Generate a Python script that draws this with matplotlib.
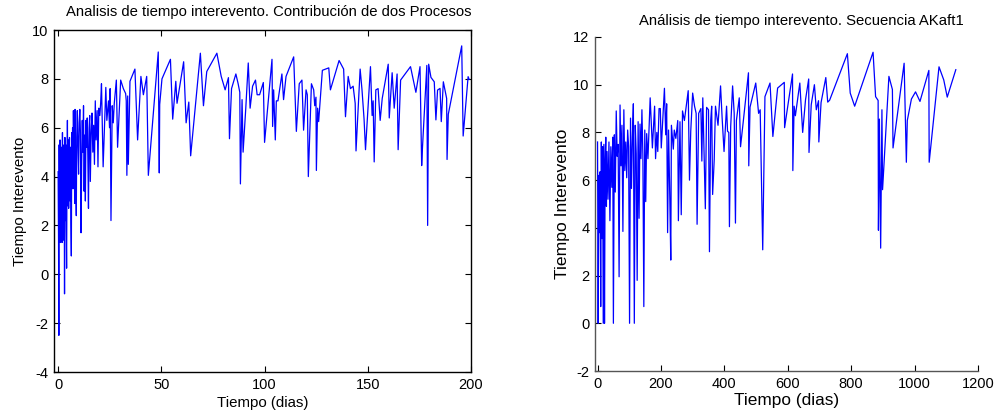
import matplotlib
matplotlib.use("Agg")
import matplotlib.pyplot as plt

plt.rcParams['font.family'] = ['Liberation Sans', 'DejaVu Sans']
plt.rcParams['axes.unicode_minus'] = False

# --- Left panel: interevent time, two-process contribution ---
left_t = [0.0, 0.2, 0.35, 0.5, 0.7, 0.9, 1.1, 1.3, 1.5, 1.7, 1.9, 2.1, 2.3, 2.5, 2.7,
          2.9, 3.1, 3.3, 3.5, 3.7, 3.9, 4.1, 4.3, 4.5, 4.7, 4.9, 5.1, 5.3, 5.5, 5.8,
          6.0, 6.2, 6.4, 6.6, 6.8, 7.0, 7.2, 7.4, 7.6, 7.8, 8.0, 8.2, 8.5, 8.8, 9.0,
          9.3, 9.6, 9.9, 10.2, 10.5, 10.8, 11.1, 11.4, 11.7, 12.0, 12.3, 12.6, 12.9,
          13.2, 13.5, 13.8, 14.1, 14.4, 14.7, 15.0, 15.3, 15.6, 16.0, 16.4, 16.8,
          17.2, 17.6, 18.0, 18.4, 18.9, 19.3, 19.7, 20.2, 20.6, 21.0,
          21.8, 23.1, 23.6, 24.4, 24.9, 25.2, 25.6, 26.2, 26.7, 27.2, 28.2, 28.8,
          30.3, 31.6, 32.7, 33.0, 33.3, 33.7, 34.0, 34.8, 37.2, 38.5, 40.1, 41.3,
          42.9, 43.7, 48.5, 49.0, 49.2, 50.3, 54.4, 55.5, 57.0, 57.6, 60.8, 62.0,
          63.3, 64.2, 68.9, 70.4, 72.0, 76.9, 79.0, 80.9, 82.5, 83.0, 84.0, 86.1,
          87.2, 88.0, 88.3, 89.1, 89.6, 90.9, 92.1, 93.0, 94.2, 95.6, 96.4, 97.6,
          99.4, 100.0, 103.6, 103.9, 104.4, 105.2, 105.7, 106.5, 108.4, 109.2,
          110.4, 114.1, 115.4, 116.8, 118.1, 118.9, 120.1, 120.7, 121.2, 122.7,
          123.8, 124.3, 124.9, 125.1, 125.7, 126.2, 128.0, 131.1, 131.9, 136.1,
          138.3, 139.2, 140.5, 141.6, 142.9, 143.9, 144.3, 146.3, 147.2, 148.2,
          148.9, 151.3, 152.1, 152.6, 153.1, 153.9, 155.0, 156.0, 157.0, 159.9,
          160.4, 161.8, 162.8, 164.2, 164.7, 165.9, 170.7, 173.3, 175.3, 176.1,
          176.5, 178.6, 179.0, 179.5, 180.6, 182.2, 183.0, 183.8, 185.0, 185.6,
          186.6, 188.2, 188.4, 189.0, 195.5, 196.2, 198.6, 199.1]
left_v = [4.2, 1.4, -2.5, 5.3, 1.5, 5.5, 1.3, 4.8, 1.6, 5.2, 1.3, 5.8, 1.9, 5.0, 1.4,
          5.3, -0.8, 5.6, 2.2, 5.3, 1.9, 0.25, 4.1, 6.3, 2.8, 5.5, 2.7, 4.6, 5.6, 3.0,
          5.2, 2.1, 0.75, 5.8, 4.2, 6.0, 3.5, 6.7, 4.8, 5.8, 2.9, 6.75, 4.0, 2.4, 5.6,
          6.7, 5.2, 4.1, 6.2, 6.75, 5.8, 1.7, 4.5, 6.3, 5.0, 6.9, 3.4, 5.7,
          3.0, 6.3, 5.2, 6.4, 4.8, 2.7, 6.0, 6.5, 3.8, 5.8, 6.6, 5.0,
          6.1, 4.5, 7.1, 5.5, 6.7, 4.4, 6.8, 6.5, 7.0, 7.8,
          4.4, 7.65, 6.3, 7.1, 6.0, 7.6, 2.2, 6.9, 6.2, 7.0, 7.95, 5.2,
          7.95, 7.6, 7.4, 7.1, 4.05, 7.3, 4.5, 7.9, 8.4, 5.5, 8.1, 7.35,
          8.1, 4.05, 9.1, 4.15, 6.95, 8.0, 8.8, 6.35, 7.9, 7.0, 8.7, 6.2,
          7.05, 4.85, 9.05, 6.9, 8.3, 9.05, 8.1, 7.55, 8.05, 5.55, 7.6, 8.2,
          7.8, 7.45, 3.7, 7.15, 5.0, 6.8, 8.65, 6.8, 7.7, 7.95, 7.35, 7.35,
          7.85, 5.4, 8.8, 6.05, 7.55, 5.5, 7.1, 7.1, 8.2, 7.15,
          8.1, 8.9, 5.85, 7.8, 7.95, 5.9, 7.55, 7.35, 4.0, 7.8,
          7.55, 6.9, 7.25, 4.25, 6.8, 6.25, 8.35, 8.45, 7.55, 8.75,
          8.4, 6.45, 8.1, 7.6, 7.7, 7.0, 5.05, 8.4, 7.55, 6.35,
          5.1, 8.5, 6.5, 7.1, 4.6, 7.55, 7.6, 6.3, 7.2, 8.6,
          6.4, 8.25, 6.8, 8.2, 5.1, 7.95, 8.5, 7.45, 8.5, 4.45,
          5.2, 8.55, 2.0, 8.6, 8.06, 7.88, 6.32, 7.54, 7.61, 6.25,
          7.88, 7.2, 4.7, 6.55, 9.35, 5.66, 8.09, 7.98]

# --- Right panel: interevent time, AKaft1 sequence ---
right_t = [0, 2, 4, 6, 8, 10, 12, 14, 16, 18, 20, 22, 24, 26, 28, 30, 33, 36, 39, 42,
           45, 48, 50, 53, 56, 59, 62, 65, 68, 71, 74, 77, 80, 83, 86, 89, 92, 95, 98,
           101, 104, 107, 110, 113, 116, 119, 122, 125, 128, 131, 134, 137, 140, 143,
           146, 149, 152, 155, 159, 166, 173, 180, 183, 187, 190, 194, 198, 201, 211,
           215, 218, 221, 224, 228, 231, 233, 239, 242, 247, 253, 255, 260, 264, 268,
           274, 286, 290, 294, 300, 306, 311, 314, 319, 326, 329, 332, 340, 344, 350,
           353, 357, 360, 363, 368, 372, 380, 388, 393, 399, 407, 410, 414, 416, 420,
           426, 431, 435, 438, 447, 451, 460, 476, 477, 481, 499, 508, 513, 521, 528,
           544, 553, 568, 589, 590, 615, 616, 620, 624, 638, 647, 656, 666, 667, 674,
           684, 690, 697, 698, 705, 720, 726, 732, 788, 797, 811, 869, 877, 885, 886,
           889, 893, 897, 899, 919, 930, 932, 967, 974, 977, 990, 1003, 1017, 1045,
           1046, 1077, 1092, 1103, 1130]
right_v = [7.6, 0, 6.2, 3.8, 6.35, 0.7, 7.6, 3.55, 7.4, 0, 7.5, 0, 6.8, 7.8, 4.9, 7.2,
           5.2, 7.6, 4.3, 7.4, 5.7, 7.8, 0, 7.9, 5.5, 8.9, 7.0, 7.5, 1.95, 9.15, 6.6,
           8.3, 3.85, 8.95, 6.4, 7.6, 6.1, 8.1, 7.4, 0, 8.6, 5.65, 7.8, 9.2, 0, 8.3,
           7.1, 1.8, 8.45, 4.4, 8.35, 6.9, 8.95, 7.05, 0.7, 8.1, 5.1, 7.95, 6.9, 9.45,
           7.35, 9.1, 6.9, 8.0, 7.2, 9.0, 9.0, 7.35, 9.85, 7.9, 9.2, 3.8, 8.1, 5.2,
           2.65, 8.3, 7.3, 8.1, 7.75, 8.5, 4.3, 8.45, 4.55, 8.9, 8.5, 9.75, 6.0, 8.05,
           9.65, 9.1, 8.8, 4.15, 8.8, 9.0, 6.8, 9.45, 4.8, 9.05, 8.95, 3.0, 8.5, 9.1,
           5.4, 6.85, 9.1, 8.3, 9.95, 8.6, 7.2, 9.1, 8.05, 8.0, 4.05, 8.25, 9.95, 8.8,
           4.2, 8.5, 9.45, 7.4, 8.5, 10.5, 6.6, 9.06, 10.07, 8.8, 8.95, 3.08, 9.5,
           10.07, 7.83, 9.86, 10.1, 8.2, 10.45, 6.4, 9.1, 8.7, 10.07, 8.0, 9.37,
           10.24, 7.16, 9.16, 10.0, 8.95, 9.33, 7.6, 9.25, 10.3, 9.27, 9.35, 11.3,
           9.65, 9.1, 11.36, 9.5, 9.34, 3.9, 8.56, 3.15, 8.95, 5.6, 10.35, 9.8, 7.35,
           10.9, 6.75, 8.5, 9.4, 9.7, 9.3, 10.6, 6.75, 10.75, 10.2, 9.48, 10.63]

left_yticks = [-4, -2, 0, 2, 4, 6, 8, 10]
left_xticks = [0, 50, 100, 150, 200]
right_yticks = [-2, 0, 2, 4, 6, 8, 10, 12]
right_xticks = [0, 200, 400, 600, 800, 1000, 1200]

W, H = 1002, 419
fig = plt.figure(figsize=(W / 100, H / 100), dpi=100)
fig.patch.set_facecolor('white')

line_color = '#0000ff'

# Left axes (boxed, ticks inward on all sides)
ax1 = fig.add_axes([54 / W, (H - 372) / H, (471 - 54) / W, (372 - 30) / H])
ax1.plot(left_t, left_v, color=line_color, lw=0.9)
ax1.set_xlim(-2, 200)
ax1.set_ylim(-4, 10)
ax1.set_xticks(left_xticks)
ax1.set_yticks(left_yticks)
ax1.tick_params(direction='in', length=4, width=0.8, top=True, right=True,
                labelsize=10.5, pad=4, colors='black')
for s in ax1.spines.values():
    s.set_linewidth(1.0)
    s.set_color('black')
ax1.set_xlabel('Tiempo (dias)', fontsize=10.8, labelpad=3)
ax1.set_ylabel('Tiempo Interevento', fontsize=10.8, labelpad=4)
ax1.set_title('Analisis de tiempo interevento. Contribución de dos Procesos',
              fontsize=10.75, pad=10, x=0.515)

# Right axes (left and bottom axis lines only)
ax2 = fig.add_axes([595 / W, (H - 371) / H, (978 - 595) / W, (371 - 37) / H])
ax2.plot(right_t, right_v, color=line_color, lw=0.9)
ax2.set_xlim(-8, 1200)
ax2.set_ylim(-2, 12)
ax2.set_xticks(right_xticks)
ax2.set_yticks(right_yticks)
ax2.tick_params(direction='in', length=4, width=0.8, labelsize=10.5, pad=4,
                colors='black')
ax2.spines['top'].set_visible(False)
ax2.spines['right'].set_visible(False)
for k in ('left', 'bottom'):
    ax2.spines[k].set_linewidth(1.0)
    ax2.spines[k].set_color('#555555')
ax2.set_xlabel('Tiempo (dias)', fontsize=12.4, labelpad=2)
ax2.set_ylabel('Tiempo Interevento', fontsize=12.6, labelpad=2)
ax2.set_title('Análisis de tiempo interevento. Secuencia AKaft1',
              fontsize=10.75, pad=9, x=0.54)

fig.savefig('out.png', dpi=100, facecolor='white')
